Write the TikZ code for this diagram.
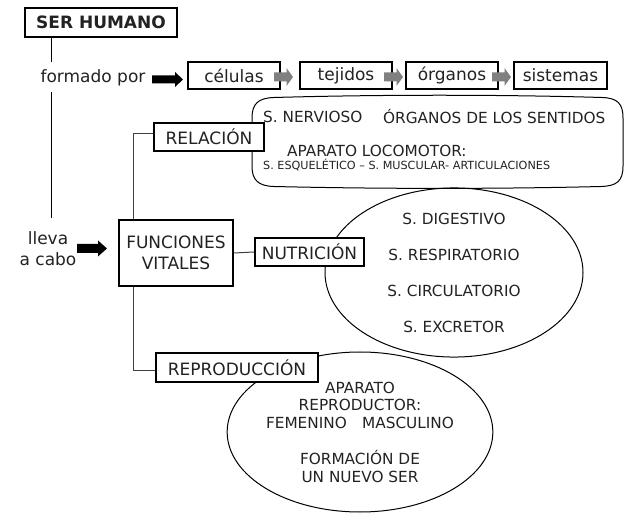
\documentclass[tikz,border=0pt]{standalone}
\usepackage{fontspec}
\setmainfont{DejaVu Sans}
\usetikzlibrary{shapes.geometric}
\newcommand\blockarr[7]{% style, x0, x1, yc, shaft half, head half, head length
  \fill[#1] (#2,#4-#5) -- (#3-#7,#4-#5) -- (#3-#7,#4-#6) -- (#3,#4) -- (#3-#7,#4+#6) -- (#3-#7,#4+#5) -- (#2,#4+#5) -- cycle;}
\definecolor{ink}{HTML}{222222}
\tikzset{
  txt/.style={text=ink, inner sep=0pt},
  big/.style={font=\fontsize{17}{20.5}\selectfont},
  mid/.style={font=\fontsize{15.3}{18}\selectfont},
  box/.style={draw=black, line width=2pt, fill=white, inner sep=0pt, text=ink, big},
  thin/.style={draw=black, line width=0.9pt},
  tree/.style={draw=black!75, line width=1pt},
}
\begin{document}
\begin{tikzpicture}[x=1pt,y=-1pt]
\useasboundingbox (0,0) rectangle (640,526);
% top
\node[box, minimum width=152pt, minimum height=29pt, font=\bfseries\fontsize{17}{20}\selectfont] (ser) at (101,22.5) {SER HUMANO};
\node[txt, big, anchor=base] (formado) at (93,83) {formado por};
\node[txt, big, align=center] (lleva) at (48,248.5) {lleva\\a cabo};
\coordinate (v0) at (51,37);
\coordinate (v1) at (51,62);
\coordinate (v2) at (51,92);
\coordinate (v3) at (51,218);
\draw[thin] (v0) -- (v1);
\draw[thin] (v2) -- (v3);
% chain
\node[box, minimum width=92pt, minimum height=27pt] (cel) at (234,75.5) {células};
\node[box, minimum width=92pt, minimum height=27pt] (tej) at (346,75.5) {tejidos};
\node[box, minimum width=92pt, minimum height=27pt] (org) at (452,75.5) {órganos};
\node[box, minimum width=93pt, minimum height=27pt] (sis) at (560.5,75.5) {sistemas};
\blockarr{black}{152}{183}{79.5}{4}{7.5}{8}
\blockarr{black!50}{274}{293}{77}{4.5}{9}{6.5}
\blockarr{black!50}{384}{403}{77}{4.5}{9}{6.5}
\blockarr{black!50}{492}{511}{77}{4.5}{9}{6.5}
% relacion content (rounded box with slightly bulging sides)
\draw[line width=1pt] (274,97.5) .. controls (380,94.5) and (500,94.5) .. (602,97.5)
  .. controls (618,98) and (623,104) .. (623,118) -- (623,166)
  .. controls (623,181) and (617,186) .. (601,186.5)
  .. controls (500,189) and (380,189) .. (274,186.5)
  .. controls (258,186) and (252,180) .. (252,166) -- (252,118)
  .. controls (252,104) and (258,98) .. (274,97.5) -- cycle;
\node[txt, mid, anchor=west] (ner) at (263,117) {S. NERVIOSO};
\node[txt, mid, anchor=west] (sen) at (383,117) {ÓRGANOS DE LOS SENTIDOS};
\node[txt, mid, anchor=west] (loc) at (287,151) {APARATO LOCOMOTOR:};
\node[txt, font=\fontsize{11.2}{13}\selectfont, anchor=west] (esq) at (263,165) {S. ESQUELÉTICO – S. MUSCULAR- ARTICULACIONES};
% ellipses
\node[draw, line width=1pt, ellipse, minimum width=258pt, minimum height=160pt, inner sep=0pt, text=ink, align=center, font=\fontsize{15.3}{36}\selectfont] (nute) at (454,272.5) {S. DIGESTIVO\\S. RESPIRATORIO\\S. CIRCULATORIO\\S. EXCRETOR};
\node[draw, line width=1pt, ellipse, minimum width=256pt, minimum height=160pt, inner sep=0pt, text=ink, align=center, font=\fontsize{15.3}{17.8}\selectfont] (repe) at (360,432) {APARATO\\REPRODUCTOR:\\FEMENINO\quad MASCULINO\\[17.8pt]FORMACIÓN DE\\UN NUEVO SER};
% tree
\node[box, minimum width=110pt, minimum height=28pt] (rel) at (209,137) {RELACIÓN};
\node[box, minimum width=114pt, minimum height=66pt, align=center, font=\fontsize{17}{20.5}\selectfont] (fun) at (176,253) {FUNCIONES\\VITALES};
\node[box, minimum width=109pt, minimum height=28pt] (nut) at (309.5,252) {NUTRICIÓN};
\node[box, minimum width=162pt, minimum height=29pt] (rep) at (237,367.5) {REPRODUCCIÓN};
\coordinate (tx) at (133,0);
\draw[tree] ([yshift=3pt]rel.west) -| (fun.north -| tx);
\draw[tree] ([yshift=-3pt]rep.west) -| (fun.south -| tx);
\draw[tree] (fun.east) -- (nut.west);
\blockarr{black}{77}{107}{248.5}{4.5}{8}{9}
\end{tikzpicture}
\end{document}
